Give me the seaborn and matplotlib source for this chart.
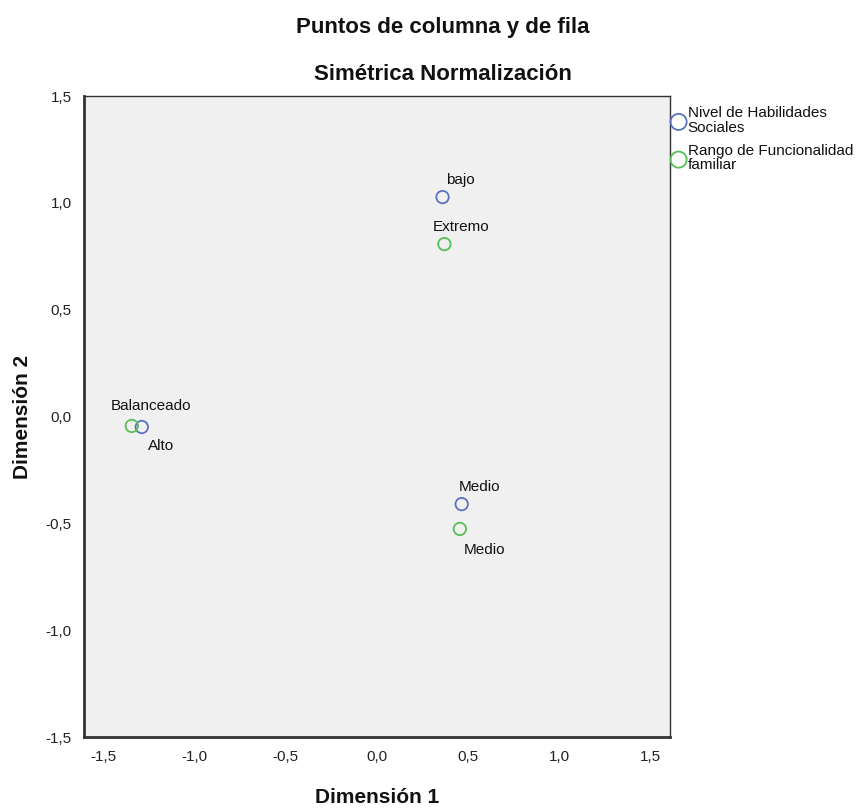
import pandas as pd
import matplotlib
matplotlib.use('Agg')
import matplotlib.pyplot as plt
import seaborn as sns

# categories and coordinates
habilidades_cat = ['bajo', 'Alto', 'Medio']
habilidades_d1 = [0.36, -1.29, 0.465]
habilidades_d2 = [1.027, -0.049, -0.41]

funcional_cat = ['Extremo', 'Balanceado', 'Medio']
funcional_d1 = [0.37, -1.345, 0.455]
funcional_d2 = [0.807, -0.044, -0.526]

serie_names = ['Nivel de Habilidades\nSociales', 'Rango de Funcionalidad\nfamiliar']
x_ticks = [-1.5, -1.0, -0.5, 0.0, 0.5, 1.0, 1.5]
y_ticks = [-1.5, -1.0, -0.5, 0.0, 0.5, 1.0, 1.5]

df = pd.DataFrame({
    'etiqueta': habilidades_cat + funcional_cat,
    'd1': habilidades_d1 + funcional_d1,
    'd2': habilidades_d2 + funcional_d2,
    'serie': [serie_names[0]] * 3 + [serie_names[1]] * 3,
})

sns.set_style('white')
plt.rcParams['font.family'] = ['Liberation Sans', 'DejaVu Sans']
plt.rcParams['text.color'] = '#111111'
plt.rcParams['axes.labelcolor'] = '#111111'
plt.rcParams['xtick.color'] = '#222222'
plt.rcParams['ytick.color'] = '#222222'

fig = plt.figure(figsize=(8.59, 8.11), dpi=100)
ax = fig.add_axes([0.0978, 0.0912, 0.682, 0.7904])
ax.set_facecolor('#f0f0f0')

colors = {serie_names[0]: '#5a72c0', serie_names[1]: '#55c055'}
for s in serie_names:
    sns.scatterplot(data=df[df.serie == s], x='d1', y='d2', s=80, facecolor='none',
                    edgecolor=colors[s], linewidth=1.3, label=s, ax=ax)

# point labels (offsets in points)
offsets = {
    ('bajo', serie_names[0]): (13, 12),
    ('Alto', serie_names[0]): (14, -14),
    ('Medio', serie_names[0]): (13, 12),
    ('Extremo', serie_names[1]): (12, 12),
    ('Balanceado', serie_names[1]): (14, 14),
    ('Medio', serie_names[1]): (18, -15),
}
for _, r in df.iterrows():
    dx, dy = offsets[(r['etiqueta'], r['serie'])]
    ax.annotate(r['etiqueta'], (r['d1'], r['d2']), xytext=(dx, dy), textcoords='offset points',
                ha='center', va='center', fontsize=11, color='#111111')

ax.set_xlim(-1.607, 1.607)
ax.set_ylim(-1.5, 1.5)
ax.set_xticks(x_ticks)
ax.set_yticks(y_ticks)
ax.set_xticklabels([f'{v:.1f}'.replace('.', ',') for v in x_ticks], fontsize=11)
ax.set_yticklabels([f'{v:.1f}'.replace('.', ',') for v in y_ticks], fontsize=11)
ax.tick_params(axis='both', direction='out', length=7, width=1.2, color='#333333', pad=2)
for sp in ax.spines.values():
    sp.set_color('#333333')
ax.spines['left'].set_linewidth(2)
ax.spines['bottom'].set_linewidth(2)
ax.spines['top'].set_linewidth(1)
ax.spines['right'].set_linewidth(1)

ax.set_xlabel('Dimensión 1', fontsize=15, fontweight='bold')
ax.set_ylabel('Dimensión 2', fontsize=15, fontweight='bold')
ax.xaxis.set_label_coords(0.5, -0.08)
ax.yaxis.set_label_coords(-0.089, 0.5)

fig.text(443 / 859, 1 - 27 / 811, 'Puntos de columna y de fila', ha='center', va='center',
         fontsize=16, fontweight='bold')
fig.text(443 / 859, 1 - 75 / 811, 'Simétrica Normalización', ha='center', va='center',
         fontsize=16, fontweight='bold')

leg = ax.legend(loc='upper left', bbox_to_anchor=(0.998, 0.989), frameon=False, fontsize=11,
                handletextpad=0.15, borderaxespad=0, borderpad=0.2, labelspacing=0.6,
                handlelength=0.9, markerscale=1.3)
for t in leg.get_texts():
    t.set_linespacing(1.05)

fig.savefig('out.png', dpi=100)
